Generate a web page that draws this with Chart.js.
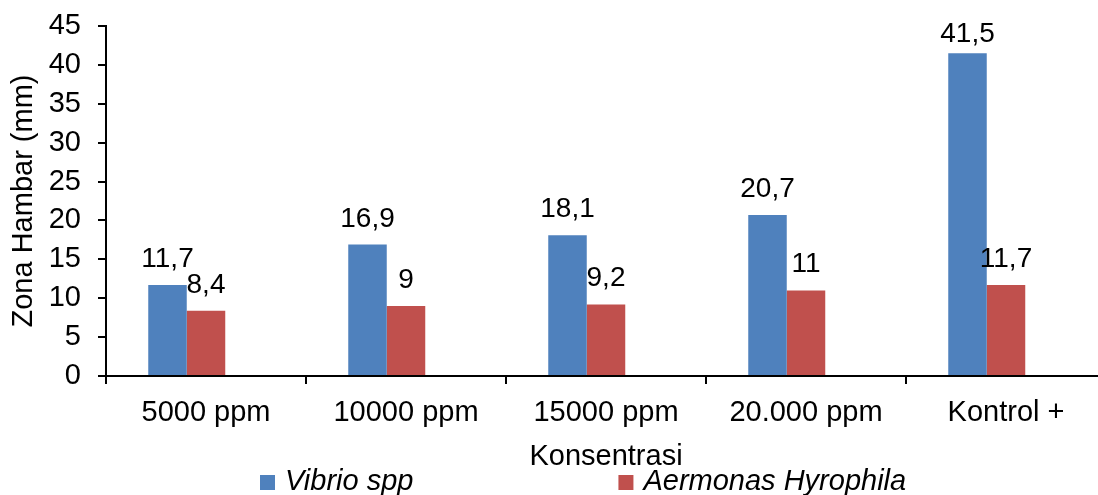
<!DOCTYPE html>
<html>
<head>
<meta charset="utf-8">
<script src="https://cdn.jsdelivr.net/npm/chart.js@4.4.1/dist/chart.umd.min.js"></script>
<style>
html, body { margin: 0; padding: 0; background: #fff; overflow: hidden; }
#wrap { width: 1110px; height: 495px; }
</style>
</head>
<body>
<div id="wrap"><canvas id="zona-plot" width="1110" height="495"></canvas></div>
<script>
let categories = ['5000 ppm', '10000 ppm', '15000 ppm', '20.000 ppm', 'Kontrol +']
let vibrio = [11.7, 16.9, 18.1, 20.7, 41.5]
let aermonas = [8.4, 9, 9.2, 11, 11.7]
let spacer = [null, null, null, null, null]   // the sheet has an empty third series, it keeps the gap
let y_min = 0
let y_max = 45
let y_step = 5

let font_family = "'Liberation Sans', Arial, sans-serif"

// value labels above the bars, decimal comma, kept inside the plot
const value_labels = {
    id: 'value_labels',
    afterDatasetsDraw(chart) {
        let ctx = chart.ctx
        let top = chart.chartArea.top
        ctx.save()
        ctx.font = '28px ' + font_family
        ctx.fillStyle = '#000'
        ctx.textAlign = 'center'
        ctx.textBaseline = 'alphabetic'
        chart.data.datasets.forEach((ds, i) => {
            if (!ds.label) return
            chart.getDatasetMeta(i).data.forEach((bar, j) => {
                let v = ds.data[j]
                if (v == null) return
                let y = Math.max(bar.y - 18, top + 16)
                ctx.fillText(String(v).replace('.', ','), bar.x, y)
            })
        })
        ctx.restore()
    }
}

// legend along the bottom edge
const bottom_legend = {
    id: 'bottom_legend',
    afterDraw(chart) {
        let ctx = chart.ctx
        let x = 260
        let base = 490
        ctx.save()
        ctx.font = 'italic 29px ' + font_family
        ctx.textAlign = 'left'
        ctx.textBaseline = 'alphabetic'
        chart.data.datasets.forEach(ds => {
            if (!ds.label) return
            ctx.fillStyle = ds.backgroundColor
            ctx.fillRect(x, base - 15, 15, 15)
            ctx.fillStyle = '#000'
            ctx.fillText(ds.label, x + 25, base)
            x += 25 + ctx.measureText(ds.label).width + 205
        })
        ctx.restore()
    }
}

function zona_define_chart_defaults() {
    Chart.defaults.font.family = font_family
    Chart.defaults.font.size = 29
    Chart.defaults.color = '#000'
    Chart.defaults.responsive = false
    Chart.defaults.animation = false
    Chart.defaults.plugins.legend.display = false
    Chart.defaults.plugins.tooltip.enabled = false
}

function zona_create_chart() {
    let ctx = document.getElementById('zona-plot')
    new Chart(ctx, {
        type: 'bar',
        data: {
            labels: categories,
            datasets: [
                {label: 'Vibrio spp', data: vibrio, backgroundColor: '#4F81BD'},
                {label: 'Aermonas Hyrophila', data: aermonas, backgroundColor: '#C0504D'},
                {label: '', data: spacer, backgroundColor: '#9BBB59'},
            ]
        },
        options: {
            devicePixelRatio: 1,
            categoryPercentage: 0.5775,
            barPercentage: 1,
            borderWidth: 0,
            layout: {padding: {top: 26, right: 4, bottom: 21, left: 0}},
            scales: {
                x: {
                    grid: {offset: true, drawOnChartArea: false, drawTicks: true, tickLength: 8, color: '#000', lineWidth: 2},
                    border: {display: true, color: '#000', width: 2},
                    ticks: {padding: 12},
                    title: {display: true, text: 'Konsentrasi', padding: {top: 0, bottom: 0}},
                    afterFit(scale) { scale.height = 98 }
                },
                y: {
                    min: y_min,
                    max: y_max,
                    ticks: {stepSize: y_step, padding: 17},
                    grid: {drawOnChartArea: false, drawTicks: true, tickLength: 8, color: '#000', lineWidth: 2},
                    border: {display: true, color: '#000', width: 2},
                    title: {display: true, text: 'Zona Hambar (mm)', padding: {top: 7, bottom: 0}},
                    afterFit(scale) {
                        scale.width = 106
                        scale.paddingTop = 0
                        scale.paddingBottom = 0
                    }
                }
            }
        },
        plugins: [value_labels, bottom_legend]
    })
}

document.addEventListener('DOMContentLoaded', () => {
    zona_define_chart_defaults()
    zona_create_chart()
})
</script>
</body>
</html>
